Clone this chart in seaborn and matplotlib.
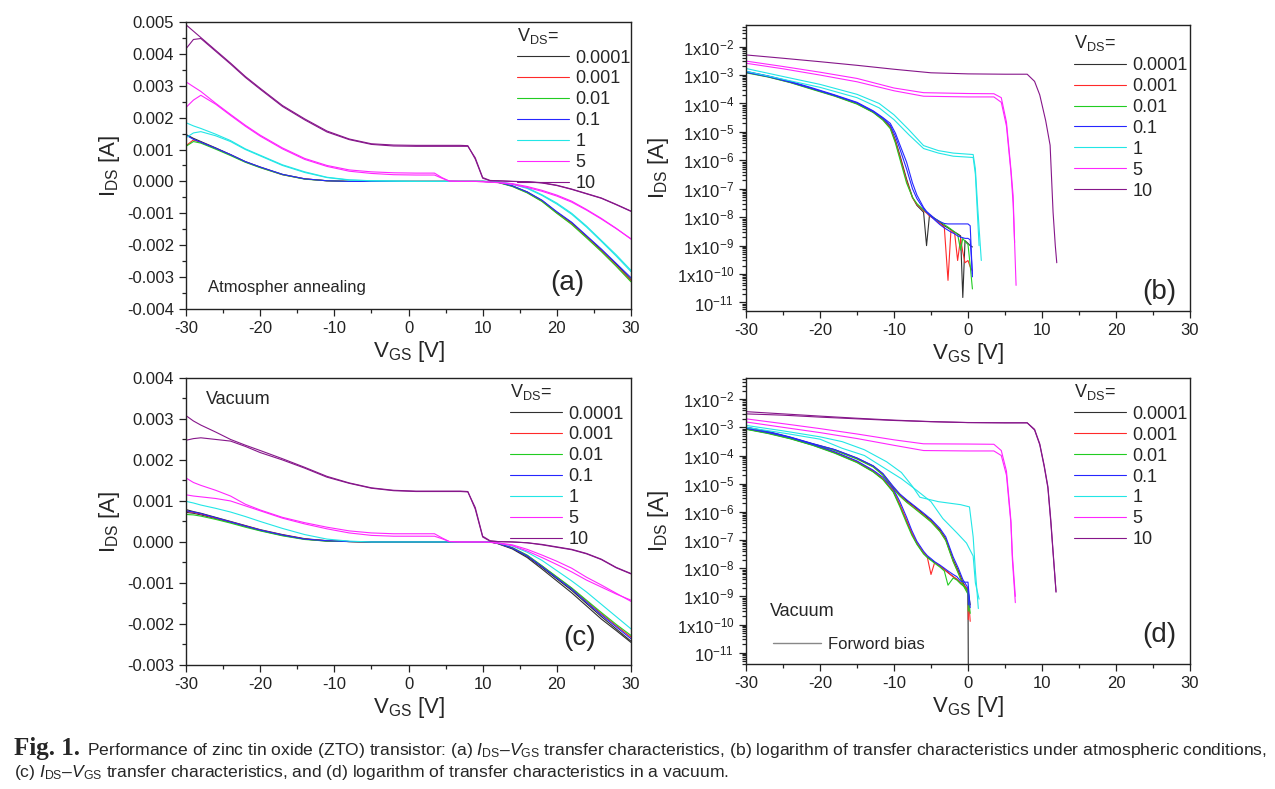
import numpy as np
import pandas as pd
import matplotlib
matplotlib.use('Agg')
import matplotlib.pyplot as plt
import seaborn as sns
from matplotlib.ticker import MultipleLocator, FixedLocator, FuncFormatter, LogLocator, NullFormatter
from matplotlib.lines import Line2D

# ---------------- data ----------------
ORDER = ['0.0001', '0.001', '0.01', '0.1', '1', '5', '10']
COLORS = {'0.0001': '#303030', '0.001': '#ff2a2a', '0.01': '#22cc22', '0.1': '#2626ff',
          '1': '#22e6e6', '5': '#ff26ff', '10': '#86168a'}

# panels (a) and (c): linear scale, common VGS grid, current in mA
LIN_VGS = [-30, -29, -28, -26, -24, -22, -20, -17, -14, -11, -8, -5, -2, 1, 3.5, 4.5,
           5.5, 7, 8, 9, 10, 11, 12, 14, 16, 18, 20, 22, 24, 26, 28, 30]

a_ids = {
    '0.0001': [1.47, 1.35, 1.25, 1.05, 0.84, 0.62, 0.45, 0.22, 0.08, 0.02, 0, 0, 0, 0, 0, 0,
               0, 0, 0, 0, 0, -0.01, -0.02, -0.14, -0.33, -0.60, -0.97, -1.30, -1.72, -2.15, -2.60, -3.08],
    '0.001': [1.12, 1.30, 1.22, 1.03, 0.83, 0.61, 0.44, 0.21, 0.08, 0.02, 0, 0, 0, 0, 0, 0,
              0, 0, 0, 0, 0, -0.01, -0.02, -0.15, -0.35, -0.62, -0.99, -1.33, -1.75, -2.18, -2.64, -3.12],
    '0.01': [1.10, 1.25, 1.20, 1.01, 0.81, 0.60, 0.43, 0.21, 0.07, 0.02, 0, 0, 0, 0, 0, 0,
             0, 0, 0, 0, 0, -0.01, -0.03, -0.16, -0.36, -0.63, -1.00, -1.35, -1.77, -2.20, -2.66, -3.15],
    '0.1': [1.45, 1.32, 1.23, 1.04, 0.84, 0.62, 0.45, 0.22, 0.08, 0.02, 0, 0, 0, 0, 0, 0,
            0, 0, 0, 0, 0, -0.01, -0.02, -0.14, -0.33, -0.59, -0.95, -1.28, -1.70, -2.12, -2.57, -3.02],
    '1': [1.84, 1.74, 1.66, 1.48, 1.28, 1.02, 0.82, 0.52, 0.30, 0.13, 0.05, 0.02, 0.01, 0, 0, 0,
          0, 0, 0, 0, 0, 0, -0.01, -0.08, -0.20, -0.42, -0.68, -1.00, -1.40, -1.85, -2.30, -2.79],
    '1 r': [1.37, 1.52, 1.56, 1.43, 1.25, 1.00, 0.80, 0.50, 0.28, 0.12, 0.04, 0.02, 0.01, 0, 0, 0,
            0, 0, 0, 0, 0, 0, -0.01, -0.09, -0.22, -0.44, -0.71, -1.03, -1.43, -1.88, -2.34, -2.83],
    '5': [3.12, 2.97, 2.82, 2.45, 2.10, 1.76, 1.45, 1.05, 0.72, 0.50, 0.36, 0.30, 0.27, 0.26, 0.26, 0.12,
          0.01, 0, 0, 0, -0.01, -0.02, -0.03, -0.07, -0.16, -0.28, -0.43, -0.62, -0.88, -1.16, -1.47, -1.81],
    '5 r': [2.32, 2.55, 2.70, 2.42, 2.07, 1.73, 1.42, 1.02, 0.69, 0.47, 0.32, 0.25, 0.21, 0.20, 0.20, 0.10,
            0.01, 0, 0, 0, -0.01, -0.02, -0.04, -0.09, -0.19, -0.31, -0.46, -0.65, -0.90, -1.18, -1.48, -1.80],
    '10': [4.91, 4.71, 4.51, 4.11, 3.71, 3.29, 2.92, 2.38, 1.96, 1.58, 1.33, 1.18, 1.14, 1.13, 1.13, 1.13,
           1.13, 1.13, 1.12, 0.70, 0.10, 0.02, 0.02, 0, -0.01, -0.04, -0.12, -0.24, -0.38, -0.52, -0.72, -0.93],
    '10 r': [4.16, 4.45, 4.48, 4.08, 3.68, 3.26, 2.89, 2.35, 1.93, 1.55, 1.31, 1.16, 1.11, 1.10, 1.10, 1.10,
             1.10, 1.10, 1.10, 0.74, 0.12, 0.03, 0.02, 0, -0.01, -0.05, -0.13, -0.25, -0.39, -0.53, -0.73, -0.94],
}

c_ids = {
    '0.0001': [0.79, 0.74, 0.70, 0.60, 0.50, 0.40, 0.30, 0.18, 0.08, 0.03, 0.01, 0, 0, 0, 0, 0,
               0, 0, 0, 0, 0, 0, -0.03, -0.15, -0.35, -0.62, -0.90, -1.18, -1.50, -1.82, -2.12, -2.42],
    '0.0001 r': [0.72, 0.70, 0.66, 0.57, 0.48, 0.38, 0.28, 0.16, 0.07, 0.02, 0.01, 0, 0, 0, 0, 0,
                 0, 0, 0, 0, 0, 0, -0.04, -0.17, -0.38, -0.66, -0.95, -1.24, -1.56, -1.88, -2.16, -2.45],
    '0.001': [0.75, 0.72, 0.68, 0.58, 0.49, 0.39, 0.29, 0.17, 0.07, 0.03, 0.01, 0, 0, 0, 0, 0,
              0, 0, 0, 0, 0, 0, -0.03, -0.14, -0.33, -0.59, -0.86, -1.13, -1.44, -1.75, -2.04, -2.32],
    '0.01': [0.67, 0.66, 0.63, 0.55, 0.46, 0.36, 0.27, 0.15, 0.06, 0.02, 0.01, 0, 0, 0, 0, 0,
             0, 0, 0, 0, 0, 0, -0.03, -0.14, -0.32, -0.58, -0.85, -1.12, -1.42, -1.72, -2.01, -2.28],
    '0.1': [0.76, 0.73, 0.69, 0.59, 0.49, 0.39, 0.29, 0.17, 0.07, 0.03, 0.01, 0, 0, 0, 0, 0,
            0, 0, 0, 0, 0, 0, -0.03, -0.15, -0.34, -0.60, -0.88, -1.15, -1.47, -1.78, -2.07, -2.36],
    '1': [0.99, 0.95, 0.90, 0.82, 0.73, 0.62, 0.50, 0.33, 0.18, 0.07, 0.02, 0, 0, 0, 0, 0,
          0, 0, 0, 0, 0, 0, -0.02, -0.10, -0.25, -0.45, -0.70, -0.95, -1.22, -1.52, -1.82, -2.12],
    '5': [1.56, 1.45, 1.38, 1.26, 1.12, 0.92, 0.78, 0.60, 0.47, 0.36, 0.27, 0.22, 0.20, 0.20, 0.20, 0.10,
          0.01, 0, 0, 0, 0, -0.01, -0.02, -0.07, -0.18, -0.32, -0.47, -0.64, -0.86, -1.05, -1.25, -1.45],
    '5 r': [1.15, 1.12, 1.10, 1.06, 1.00, 0.88, 0.76, 0.58, 0.44, 0.32, 0.22, 0.16, 0.14, 0.14, 0.14, 0.08,
            0.01, 0, 0, 0, 0, -0.01, -0.03, -0.09, -0.22, -0.38, -0.55, -0.73, -0.93, -1.10, -1.27, -1.42],
    '10': [3.08, 2.95, 2.85, 2.68, 2.50, 2.36, 2.23, 2.03, 1.82, 1.60, 1.44, 1.32, 1.26, 1.24, 1.24, 1.24,
           1.24, 1.24, 1.23, 0.80, 0.12, 0.02, 0.01, 0, -0.02, -0.06, -0.12, -0.18, -0.28, -0.42, -0.62, -0.77],
    '10 r': [2.48, 2.52, 2.54, 2.50, 2.46, 2.33, 2.18, 2.00, 1.80, 1.58, 1.43, 1.31, 1.25, 1.23, 1.23, 1.23,
             1.23, 1.23, 1.22, 0.84, 0.14, 0.03, 0.01, 0, -0.02, -0.07, -0.13, -0.19, -0.29, -0.43, -0.63, -0.78],
}

# panel (b): log scale, current in A
B_LOW_X = [-30, -27, -24, -21, -18, -15, -12.8, -11.5, -10.5, -9.8, -9.2, -8.3, -7.5, -6.9, -6.0,
           -5.6, -5.2, -4.5, -3.8, -3.2, -2.7, -2.3, -1.8, -1.4, -1.0, -0.7, -0.4, 0.0, 0.3, 0.6]
B_1_X = [-30, -25, -20, -15, -12, -10, -8, -6, -4, -2, 0.7, 1.0, 1.3, 1.8]
B_1R_X = [-30, -25, -20, -15, -12, -10, -8, -6, -4, -2, 0.7, 1.0, 1.3, 1.5]
B_5_X = [-30, -25, -20, -15, -10, -6, 0, 3.5, 4.5, 5.2, 5.8, 6.1, 6.3, 6.5]
B_10_X = [-30, -25, -20, -15, -10, -5, 0, 5, 8, 9, 9.7, 10.5, 11.1, 11.5, 11.8, 12.0]

b_vgs = {'0.0001': B_LOW_X, '0.001': B_LOW_X, '0.01': B_LOW_X, '0.1': B_LOW_X, '0.1 r': B_LOW_X,
         '1': B_1_X, '1 r': B_1R_X, '5': B_5_X, '5 r': B_5_X[:-1], '10': B_10_X}
b_ids = {
    '0.0001': [1.3e-3, 9e-4, 5.7e-4, 3.3e-4, 1.9e-4, 1.0e-4, 5e-5, 2.8e-5, 1.5e-5, 5e-6, 1.5e-6, 2.2e-7,
               5e-8, 2.6e-8, 1.5e-8, 1e-9, 1.2e-8, 9e-9, 6.6e-9, 5e-9, 4.2e-9, 3.6e-9, 3e-9, 2.6e-9,
               2.2e-9, 1.5e-11, 1.5e-9, 1.2e-9, 1.0e-9, 9e-10],
    '0.001': [1.25e-3, 8.7e-4, 5.5e-4, 3.2e-4, 1.85e-4, 9.8e-5, 4.9e-5, 2.7e-5, 1.4e-5, 4.5e-6, 1.3e-6,
              1.9e-7, 4.8e-8, 2.8e-8, 1.7e-8, 1.4e-8, 1.1e-8, 8.5e-9, 6e-9, 4.5e-9, 6e-11, 3.5e-9, 2.7e-9,
              3e-10, 1.8e-9, 6e-10, 2.5e-10, 3e-10, 1.8e-10, 1.3e-10],
    '0.01': [1.2e-3, 8.5e-4, 5.4e-4, 3.1e-4, 1.8e-4, 9.5e-5, 4.8e-5, 2.6e-5, 1.3e-5, 4e-6, 1.1e-6, 1.6e-7,
             5e-8, 3e-8, 1.8e-8, 1.5e-8, 1.2e-8, 9e-9, 7e-9, 5.5e-9, 4.5e-9, 3.8e-9, 3e-9, 2.5e-9,
             7e-10, 1.8e-9, 1.4e-9, 1.1e-9, 2e-10, 3e-11],
    '0.1': [1.35e-3, 9.3e-4, 6.0e-4, 3.5e-4, 2.0e-4, 1.1e-4, 5.5e-5, 3.2e-5, 2.0e-5, 9e-6, 3.5e-6, 8.7e-7,
            1.6e-7, 6e-8, 2.2e-8, 1.6e-8, 1.3e-8, 9e-9, 7e-9, 6e-9, 5.8e-9, 5.8e-9, 5.8e-9, 5.8e-9,
            5.8e-9, 5.8e-9, 5.8e-9, 5.8e-9, 5e-9, 8e-11],
    '0.1 r': [1.25e-3, 8.8e-4, 5.6e-4, 3.3e-4, 1.9e-4, 1.05e-4, 5.2e-5, 3.0e-5, 1.7e-5, 7e-6, 2.5e-6, 5e-7,
              1.0e-7, 4.5e-8, 2.0e-8, 1.5e-8, 1.2e-8, 8e-9, 5.5e-9, 4.2e-9, 3.5e-9, 3e-9, 2.6e-9, 2.2e-9,
              2e-9, 1.9e-9, 1.8e-9, 1.8e-9, 1.6e-9, 1e-10],
    '1': [1.7e-3, 8.9e-4, 4.7e-4, 2.1e-4, 1.0e-4, 4e-5, 1.2e-5, 3.3e-6, 2.2e-6, 1.8e-6, 1.6e-6, 5e-7,
          2.5e-8, 3e-10],
    '1 r': [1.35e-3, 7.1e-4, 3.7e-4, 1.6e-4, 7e-5, 2.7e-5, 8e-6, 2.6e-6, 1.8e-6, 1.4e-6, 1.26e-6, 3.2e-7,
            1e-8, 1e-9],
    '5': [3.1e-3, 2.0e-3, 1.26e-3, 7.6e-4, 3.5e-4, 2.4e-4, 2.24e-4, 2.2e-4, 1.6e-4, 2.2e-5, 5e-7, 5.8e-8,
          1.3e-9, 4e-11],
    '5 r': [2.6e-3, 1.66e-3, 1.0e-3, 5.8e-4, 2.8e-4, 1.8e-4, 1.7e-4, 1.7e-4, 1.1e-4, 1.6e-5, 4e-7, 3e-8,
            1.3e-9],
    '10': [5.1e-3, 3.9e-3, 2.95e-3, 2.2e-3, 1.6e-3, 1.2e-3, 1.1e-3, 1.07e-3, 1.07e-3, 6e-4, 2.0e-4, 2.5e-5,
           3.4e-6, 1.5e-8, 1e-9, 2.5e-10],
}

# panel (d): log scale, current in A
D_LOW1_X = [-30, -27, -24, -21, -18, -15, -12.8, -11.5, -10.1, -9.2, -8.3, -7.6, -6.9, -6.0, -5.5,
            -5.0, -4.5, -3.8, -3.2, -2.7, -2.0, -1.5, -1.0, -0.5, 0.0, 0.3]
D_LOW2_X = [-30, -27, -24, -21, -18, -15, -12.8, -11.5, -10.1, -9.2, -8.3, -7.2, -6.1, -5.0, -3.8,
            -3.0, -2.0, -1.3, -0.7, 0.0, 0.05]
D_1_X = [-30, -25, -20, -17, -14, -11, -9, -7.5, -6.5, -4, -1, 0.2, 0.7, 1.0, 1.4]
D_1R_X = [-30, -25, -20, -17, -14, -11, -9, -7, -5, -3.4, -1.5, -0.2, 0.7, 1.0, 1.5]
D_5_X = [-30, -25, -20, -15, -10, -6, 0, 3.5, 4.5, 5.2, 5.8, 6.0, 6.4]
D_10_X = [-30, -25, -20, -15, -10, -5, 0, 5, 8, 9, 9.7, 10.3, 10.8, 11.2, 11.5, 11.9]

d_vgs = {'0.0001': D_LOW2_X, '0.0001 r': D_LOW1_X, '0.001': D_LOW1_X, '0.001 r': D_LOW2_X,
         '0.01': D_LOW1_X, '0.01 r': D_LOW2_X, '0.1': D_LOW1_X, '0.1 r': D_LOW2_X,
         '1': D_1_X, '1 r': D_1R_X, '5': D_5_X, '5 r': D_5_X, '10': D_10_X, '10 r': D_10_X}
d_ids = {
    '0.0001': [1.0e-3, 7.0e-4, 4.4e-4, 2.6e-4, 1.6e-4, 8.0e-5, 4.2e-5, 2.2e-5, 7.4e-6, 4e-6, 2.5e-6,
               1.5e-6, 8.7e-7, 5e-7, 2.3e-7, 1.1e-7, 2e-8, 8e-9, 3.2e-9, 1.5e-9, 1e-12],
    '0.0001 r': [8.7e-4, 6.2e-4, 4.0e-4, 2.35e-4, 1.25e-4, 5.8e-5, 2.7e-5, 1.45e-5, 5.3e-6, 1.7e-6, 4.7e-7,
                 1.7e-7, 7.5e-8, 3.4e-8, 2.5e-8, 2e-8, 1.6e-8, 1.2e-8, 9e-9, 7e-9, 5e-9, 4e-9, 3e-9,
                 2.3e-9, 1.7e-9, 5e-10],
    '0.001': [8.9e-4, 6.3e-4, 4.1e-4, 2.4e-4, 1.3e-4, 6.0e-5, 2.8e-5, 1.5e-5, 5.6e-6, 1.8e-6, 5e-7, 1.8e-7,
              7.8e-8, 3.5e-8, 2.5e-8, 6e-9, 1.6e-8, 1.2e-8, 9e-9, 7e-9, 5e-9, 4.1e-9, 3e-9, 2.4e-9,
              1.8e-9, 1.3e-10],
    '0.001 r': [9.6e-4, 6.8e-4, 4.3e-4, 2.55e-4, 1.55e-4, 7.8e-5, 4.0e-5, 2.1e-5, 7e-6, 3.8e-6, 2.3e-6,
                1.4e-6, 8e-7, 4.6e-7, 2.1e-7, 1e-7, 1.8e-8, 7e-9, 2.8e-9, 1.3e-9, 1.5e-10],
    '0.01': [8.5e-4, 6.0e-4, 3.9e-4, 2.3e-4, 1.2e-4, 5.6e-5, 2.6e-5, 1.4e-5, 5e-6, 1.5e-6, 4e-7, 1.5e-7,
             7e-8, 3.2e-8, 2.4e-8, 1.9e-8, 1.5e-8, 1.1e-8, 8e-9, 2.5e-9, 4.5e-9, 3.8e-9, 2.8e-9, 2.2e-9,
             1.6e-9, 2.5e-10],
    '0.01 r': [9.3e-4, 6.6e-4, 4.2e-4, 2.5e-4, 1.5e-4, 7.5e-5, 3.9e-5, 2.0e-5, 6.6e-6, 3.6e-6, 2.2e-6,
               1.3e-6, 7.6e-7, 4.4e-7, 2.0e-7, 9.5e-8, 1.7e-8, 6.5e-9, 2.6e-9, 1.2e-9, 3e-10],
    '0.1': [9.2e-4, 6.5e-4, 4.3e-4, 2.5e-4, 1.35e-4, 6.4e-5, 3.0e-5, 1.7e-5, 6.5e-6, 2.3e-6, 6.5e-7, 2.2e-7,
            9e-8, 4e-8, 2.8e-8, 2.2e-8, 1.7e-8, 1.3e-8, 1e-8, 8e-9, 6e-9, 5e-9, 3.5e-9, 3.2e-9, 3.2e-9, 4e-10],
    '0.1 r': [1.02e-3, 7.1e-4, 4.5e-4, 2.65e-4, 1.62e-4, 8.2e-5, 4.3e-5, 2.3e-5, 8e-6, 4.3e-6, 2.7e-6,
              1.6e-6, 9.5e-7, 5.5e-7, 2.6e-7, 1.3e-7, 2.5e-8, 1e-8, 4e-9, 2e-9, 5e-10],
    '1': [1.17e-3, 7.5e-4, 4.6e-4, 3.1e-4, 1.6e-4, 6e-5, 2.5e-5, 8e-6, 3.3e-6, 2.3e-6, 1.8e-6, 1.5e-6,
          1.3e-7, 8e-9, 3.7e-10],
    '1 r': [1.0e-3, 6.3e-4, 3.8e-4, 1.8e-4, 1.0e-4, 3.2e-5, 1.5e-5, 6e-6, 2.3e-6, 5.8e-7, 1.8e-7, 7.8e-8,
            2.7e-8, 3e-9, 8e-10],
    '5': [2.0e-3, 1.35e-3, 9e-4, 5.8e-4, 3.6e-4, 2.6e-4, 2.55e-4, 2.5e-4, 1.5e-4, 2.8e-5, 5e-7, 3e-8, 1e-9],
    '5 r': [1.55e-3, 1.0e-3, 6.5e-4, 4.0e-4, 2.3e-4, 1.5e-4, 1.45e-4, 1.45e-4, 1.0e-4, 2e-5, 4e-7, 2e-8,
            6e-10],
    '10': [3.6e-3, 3.0e-3, 2.5e-3, 2.1e-3, 1.8e-3, 1.6e-3, 1.48e-3, 1.45e-3, 1.45e-3, 8e-4, 2.4e-4, 4e-5,
           7e-6, 4e-7, 3.5e-8, 1.4e-9],
    '10 r': [3.0e-3, 2.7e-3, 2.3e-3, 2.0e-3, 1.75e-3, 1.58e-3, 1.47e-3, 1.44e-3, 1.44e-3, 8.5e-4, 2.6e-4,
             4.5e-5, 8e-6, 5e-7, 4e-8, 1.5e-9],
}

# ---------------- style ----------------
sns.set_style('ticks')
plt.rcParams['font.family'] = ['Liberation Sans', 'DejaVu Sans']
plt.rcParams['mathtext.fontset'] = 'custom'
plt.rcParams['mathtext.rm'] = 'Liberation Sans'
plt.rcParams['mathtext.it'] = 'Liberation Sans:italic'
plt.rcParams['mathtext.bf'] = 'Liberation Sans:bold'
plt.rcParams['axes.unicode_minus'] = False
plt.rcParams['axes.linewidth'] = 1.0
plt.rcParams['axes.edgecolor'] = '#222222'
plt.rcParams['xtick.major.size'] = 5
plt.rcParams['ytick.major.size'] = 5
plt.rcParams['xtick.minor.size'] = 3
plt.rcParams['ytick.minor.size'] = 3
plt.rcParams['xtick.color'] = '#222222'
plt.rcParams['ytick.color'] = '#222222'

fig = plt.figure(figsize=(12.75, 7.89), dpi=100)
ax_a = fig.add_axes([0.1459, 0.6084, 0.3490, 0.3638])
ax_b = fig.add_axes([0.5851, 0.6058, 0.3482, 0.3625])
ax_c = fig.add_axes([0.1459, 0.1572, 0.3490, 0.3638])
ax_d = fig.add_axes([0.5851, 0.1584, 0.3482, 0.3625])


def draw_panel(ax, vgs, ids, scale=1.0):
    for key, vals in ids.items():
        vds = key.split()[0]
        x = vgs[key] if isinstance(vgs, dict) else vgs
        sns.lineplot(x=x, y=np.array(vals) * scale, ax=ax, color=COLORS[vds], lw=0.8,
                     sort=False, estimator=None, legend=False,
                     label=vds if ' ' not in key else '_nolegend_')


def add_legend(ax, anchor):
    h, l = ax.get_legend_handles_labels()
    hmap = dict(zip(l, h))
    leg = ax.legend([hmap[k] for k in ORDER], ORDER, title=r'$\mathregular{V_{DS}}$=',
                    loc='upper left', bbox_to_anchor=anchor, frameon=False, fontsize=13,
                    title_fontsize=13, handlelength=2.9, handletextpad=0.35,
                    labelspacing=0.22, borderaxespad=0.0, borderpad=0.2, alignment='left')
    return leg


def log_label(v, pos):
    n = int(round(np.log10(v)))
    if n == -11:
        return r'$\mathregular{10^{%d}}$' % n
    return r'$\mathregular{1x10^{%d}}$' % n


def style_axes(ax, log=False):
    ax.set_xlim(-30, 30)
    ax.xaxis.set_major_locator(MultipleLocator(10))
    ax.xaxis.set_minor_locator(MultipleLocator(5))
    ax.tick_params(axis='both', which='both', direction='out', labelsize=12, width=0.9)
    ax.set_xlabel(r'$\mathregular{V_{GS}}$ [V]', fontsize=16, labelpad=2)
    ax.set_ylabel(r'$\mathregular{I_{DS}}$ [A]', fontsize=16, labelpad=4)
    if log:
        ax.set_yscale('log')
        ax.yaxis.set_major_locator(FixedLocator([10.0 ** k for k in range(-11, -1)]))
        ax.yaxis.set_minor_locator(LogLocator(base=10, subs=np.arange(2, 10), numticks=30))
        ax.yaxis.set_major_formatter(FuncFormatter(log_label))
        ax.yaxis.set_minor_formatter(NullFormatter())
    for s in ax.spines.values():
        s.set_visible(True)


# (a)
draw_panel(ax_a, LIN_VGS, a_ids, 1e-3)
style_axes(ax_a)
ax_a.set_ylim(-0.004, 0.005)
ax_a.yaxis.set_major_locator(MultipleLocator(0.001))
ax_a.yaxis.set_minor_locator(MultipleLocator(0.0005))
ax_a.yaxis.set_major_formatter(FuncFormatter(lambda v, p: '%.3f' % v))
add_legend(ax_a, (0.735, 1.0))
ax_a.text(0.05, 0.075, 'Atmospher annealing', transform=ax_a.transAxes, fontsize=12, va='center')
ax_a.text(0.856, 0.09, '(a)', transform=ax_a.transAxes, fontsize=20, ha='center', va='center')

# (b)
draw_panel(ax_b, b_vgs, b_ids)
style_axes(ax_b, log=True)
ax_b.set_ylim(10 ** -11.3, 10 ** -1.24)
add_legend(ax_b, (0.73, 0.985))
ax_b.text(0.93, 0.065, '(b)', transform=ax_b.transAxes, fontsize=20, ha='center', va='center')

# (c)
draw_panel(ax_c, LIN_VGS, c_ids, 1e-3)
style_axes(ax_c)
ax_c.set_ylim(-0.003, 0.004)
ax_c.yaxis.set_major_locator(MultipleLocator(0.001))
ax_c.yaxis.set_minor_locator(MultipleLocator(0.0005))
ax_c.yaxis.set_major_formatter(FuncFormatter(lambda v, p: '%.3f' % v))
add_legend(ax_c, (0.72, 1.0))
ax_c.text(0.045, 0.925, 'Vacuum', transform=ax_c.transAxes, fontsize=13, va='center')
ax_c.text(0.885, 0.095, '(c)', transform=ax_c.transAxes, fontsize=20, ha='center', va='center')

# (d)
draw_panel(ax_d, d_vgs, d_ids)
style_axes(ax_d, log=True)
ax_d.set_ylim(10 ** -11.4, 10 ** -1.25)
leg_d = add_legend(ax_d, (0.73, 1.0))
ax_d.add_artist(leg_d)
ax_d.legend([Line2D([], [], color='#888888', lw=1.0)], ['Forword bias'], loc='lower left',
            bbox_to_anchor=(0.045, 0.02), frameon=False, fontsize=12, handlelength=2.9,
            handletextpad=0.4, borderaxespad=0.0)
ax_d.text(0.055, 0.185, 'Vacuum', transform=ax_d.transAxes, fontsize=13, va='center')
ax_d.text(0.93, 0.10, '(d)', transform=ax_d.transAxes, fontsize=20, ha='center', va='center')

# caption
fig.text(0.011, 0.0425, 'Fig. 1.', fontsize=18, fontweight='bold', family='Liberation Serif',
         va='baseline')
fig.text(0.0685, 0.0425, 'Performance of zinc tin oxide (ZTO) transistor: (a) $I_{\\mathrm{DS}}$'
         '\u2013$V_{\\mathrm{GS}}$ transfer characteristics, (b) logarithm of transfer characteristics '
         'under atmospheric conditions,', fontsize=12.6, va='baseline')
fig.text(0.011, 0.0155, '(c) $I_{\\mathrm{DS}}$\u2013$V_{\\mathrm{GS}}$ transfer characteristics, and '
         '(d) logarithm of transfer characteristics in a vacuum.', fontsize=12.6, va='baseline')

fig.savefig('out.png', dpi=100, facecolor='white')
